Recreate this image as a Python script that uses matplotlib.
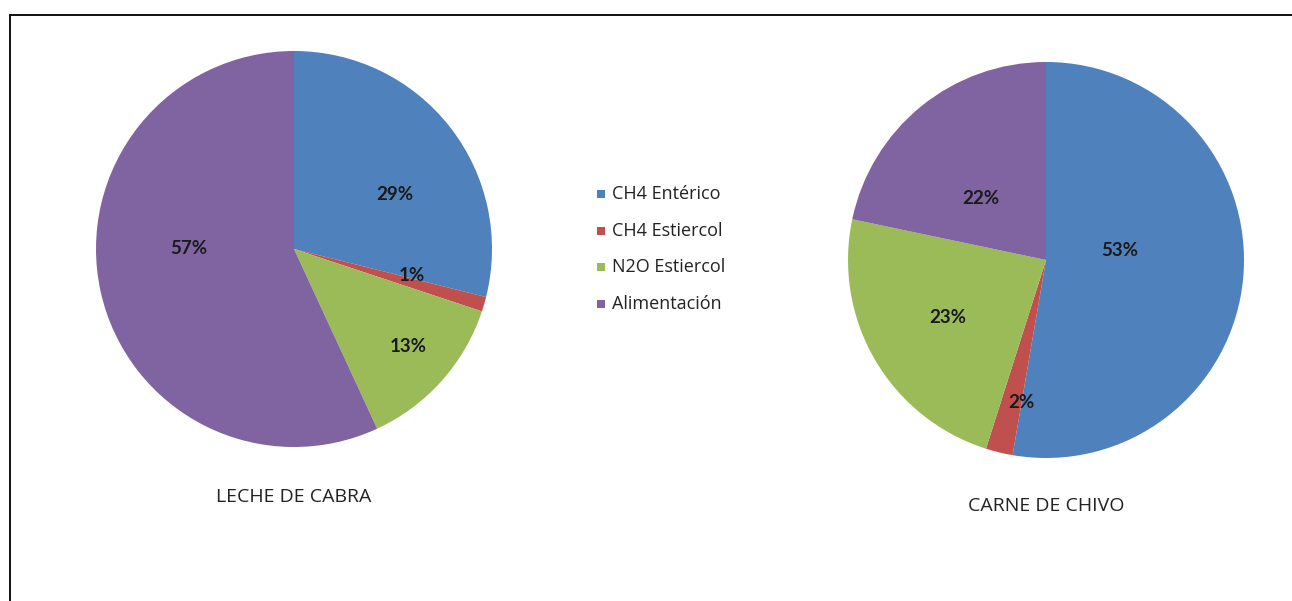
import numpy as np
import matplotlib
matplotlib.use("Agg")
import matplotlib.pyplot as plt
from matplotlib.lines import Line2D

categories = ["CH4 Entérico", "CH4 Estiercol", "N2O Estiercol", "Alimentación"]
leche_values = [28.9, 1.2, 13.0, 56.9]
carne_values = [52.7, 2.2, 23.4, 21.7]
leche_labels = ["29%", "1%", "13%", "57%"]
carne_labels = ["53%", "2%", "23%", "22%"]
titles = ["LECHE DE CABRA", "CARNE DE CHIVO"]

colors = ["#4F81BD", "#C0504D", "#9BBB59", "#8064A2"]
FONT = ["Open Sans", "DejaVu Sans"]
BOLD_FONT = ["Lato", "DejaVu Sans"]

# label placement inside each pie (radius units), as in the original layout
leche_label_pos = [(0.51, 0.275), (0.595, -0.135), (0.575, -0.49), (-0.53, 0.005)]
carne_label_pos = [(0.37, 0.05), (-0.125, -0.72), (-0.495, -0.29), (-0.33, 0.31)]

W, H = 1292, 601
fig = plt.figure(figsize=(W / 100, H / 100), dpi=100)
fig.patch.set_facecolor("white")


def px_axes(cx, cy, r):
    return fig.add_axes([(cx - r) / W, 1 - (cy + r) / H, 2 * r / W, 2 * r / H])


def draw_pie(ax, values, labels, pos, title, title_y):
    ax.pie(values, colors=colors, startangle=90, counterclock=False,
           radius=1.0, wedgeprops=dict(linewidth=0))
    for lab, (x, y) in zip(labels, pos):
        ax.text(x, y, lab, ha="center", va="center",
                fontsize=13.5, fontweight="bold", color="#1a1a1a", family=BOLD_FONT)
    ax.set_xlim(-1, 1)
    ax.set_ylim(-1, 1)
    ax.set_aspect("equal")
    ax.axis("off")
    ax.text(0, title_y, title, ha="center", va="center", fontsize=14,
            color="#222222", family=FONT, clip_on=False)


ax1 = px_axes(294, 249, 198)
draw_pie(ax1, leche_values, leche_labels, leche_label_pos, titles[0], -1.25)

ax2 = px_axes(1046, 260, 198)
draw_pie(ax2, carne_values, carne_labels, carne_label_pos, titles[1], -1.24)

# legend
leg_y = [194, 231, 267, 304]
for cat, col, y in zip(categories, colors, leg_y):
    fig.patches.append(plt.Rectangle((597 / W, 1 - (y + 4) / H), 8 / W, 8 / H,
                                     transform=fig.transFigure, facecolor=col,
                                     edgecolor="none"))
    fig.text(612 / W, 1 - y / H, cat, ha="left", va="center", fontsize=13,
             color="#222222", family=FONT)

# frame (top and left edges visible)
x0 = 9.5 / W
y0 = 1 - 15 / H
fig.add_artist(Line2D([x0, x0], [-0.1, y0], transform=fig.transFigure,
                      color="#111111", linewidth=1.4))
fig.add_artist(Line2D([x0, 1.1], [y0, y0], transform=fig.transFigure,
                      color="#111111", linewidth=1.4))

fig.savefig("out.png", dpi=100, facecolor="white")
